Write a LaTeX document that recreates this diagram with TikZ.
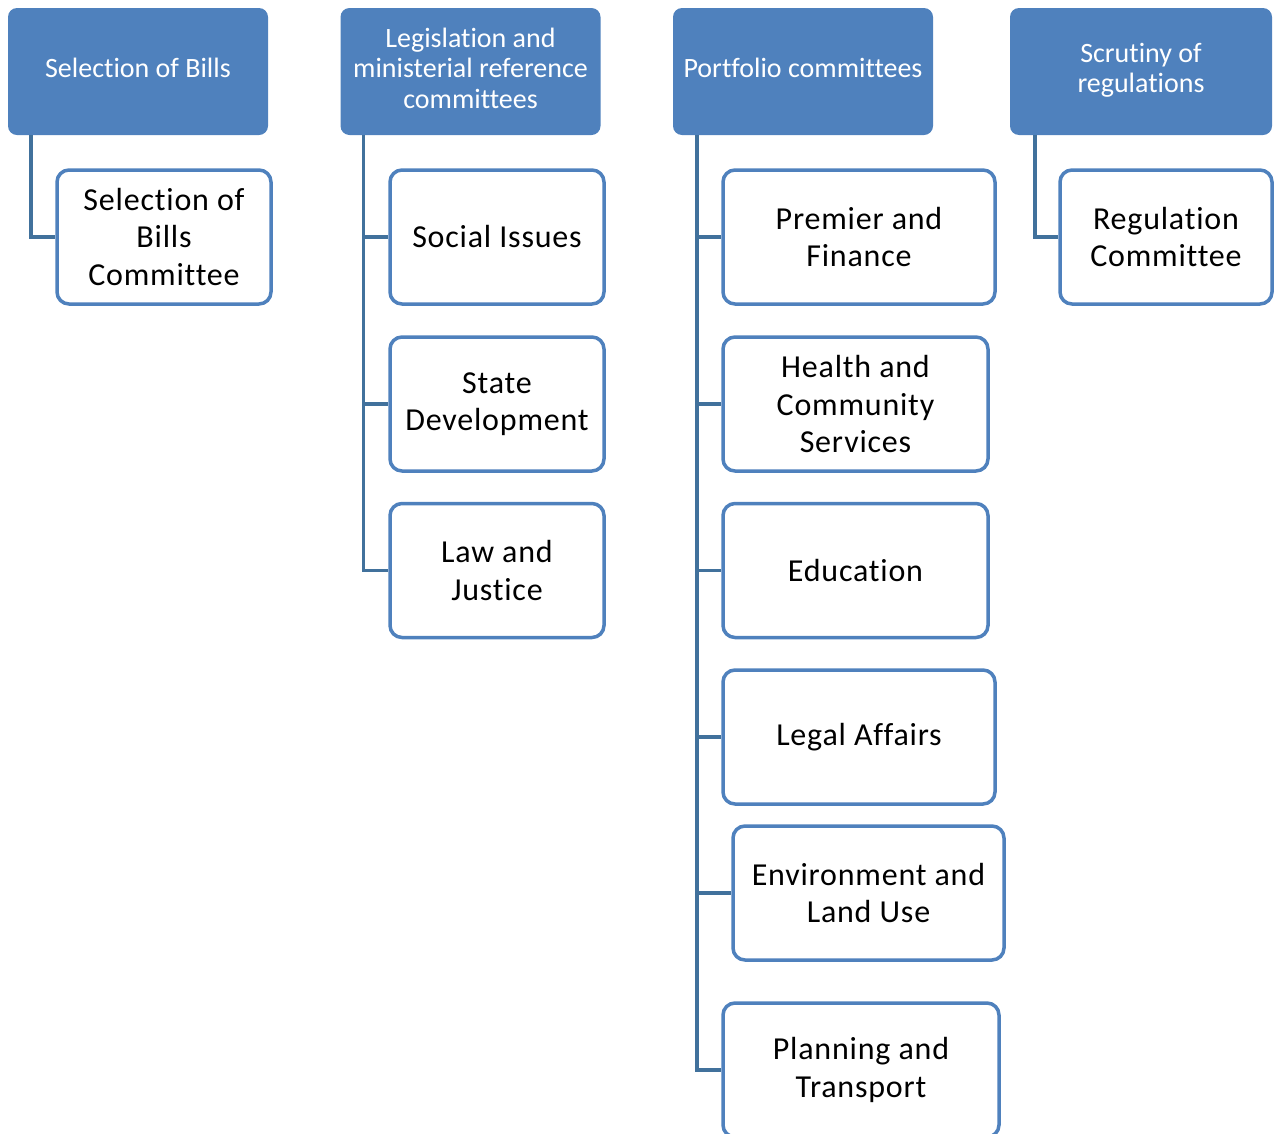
\documentclass[tikz,border=0pt]{standalone}
\usepackage{fontspec}
\setmainfont{Carlito}[Ligatures=CommonOff]
\newfontfamily\unitfont{Carlito}[Ligatures=CommonOff, LetterSpace=2.5]
\definecolor{headblue}{HTML}{4F81BD}
\definecolor{linkblue}{HTML}{41719C}
% header text sits slightly above the box centre
\newcommand{\headtext}[1]{\raisebox{3pt}{\begin{tabular}{@{}c@{}}#1\end{tabular}}}
\begin{document}
\begin{tikzpicture}[x=1pt,y=-1pt,
  head/.style={fill=headblue, rounded corners=9pt, text=white,
    font=\fontsize{28}{30.5}\selectfont, inner sep=0pt,
    minimum width=260pt, minimum height=127pt},
  unit/.style={draw=headblue, fill=white, line width=3.5pt, rounded corners=12pt,
    text=black, align=center, font=\unitfont\fontsize{32}{37.5}\selectfont, inner sep=0pt,
    minimum height=134pt},
  link/.style={draw=linkblue, line width=3.5pt}]
\useasboundingbox (0,0) rectangle (1274,1133);
\clip (0,0) rectangle (1274,1133);

% group headers
\node[head] (h1) at (138,71.5) {\headtext{Selection of Bills}};
\node[head] (h2) at (470.5,71.5) {\headtext{Legislation and\\ministerial reference\\committees}};
\node[head] (h3) at (803,71.5) {\headtext{Portfolio committees}};
\node[head, minimum width=262pt] (h4) at (1141,71.5) {\headtext{Scrutiny of\\regulations}};

% committees
\node[unit, minimum width=214pt] (c11) at (164,237) {Selection of\\Bills\\Committee};

\node[unit, minimum width=214pt] (c21) at (497,237) {Social Issues};
\node[unit, minimum width=214pt] (c22) at (497,404) {State\\Development};
\node[unit, minimum width=214pt] (c23) at (497,570.5) {Law and\\Justice};

\node[unit, minimum width=272pt] (c31) at (859,237) {Premier and\\Finance};
\node[unit, minimum width=265pt] (c32) at (855.5,404) {Health and\\Community\\Services};
\node[unit, minimum width=265pt] (c33) at (855.5,570.5) {Education};
\node[unit, minimum width=272pt] (c34) at (859,737) {Legal Affairs};
\node[unit, minimum width=271pt] (c35) at (868.5,893) {Environment and\\Land Use};
\node[unit, minimum width=276pt] (c36) at (861,1070) {Planning and\\Transport};

\node[unit, minimum width=212pt] (c41) at (1166,237) {Regulation\\Committee};

% tree connectors: a spine under each header with a branch to every committee
\draw[link] ([xshift=23pt]h1.south west) |- (c11.west);

\draw[link] ([xshift=23pt]h2.south west) |- (c21.west);
\draw[link] ([xshift=23pt]h2.south west) |- (c22.west);
\draw[link] ([xshift=23pt]h2.south west) |- (c23.west);

\draw[link] ([xshift=24pt]h3.south west) |- (c31.west);
\draw[link] ([xshift=24pt]h3.south west) |- (c32.west);
\draw[link] ([xshift=24pt]h3.south west) |- (c33.west);
\draw[link] ([xshift=24pt]h3.south west) |- (c34.west);
\draw[link] ([xshift=24pt]h3.south west) |- (c35.west);
\draw[link] ([xshift=24pt]h3.south west) |- (c36.west);

\draw[link] ([xshift=25pt]h4.south west) |- (c41.west);
\end{tikzpicture}
\end{document}
